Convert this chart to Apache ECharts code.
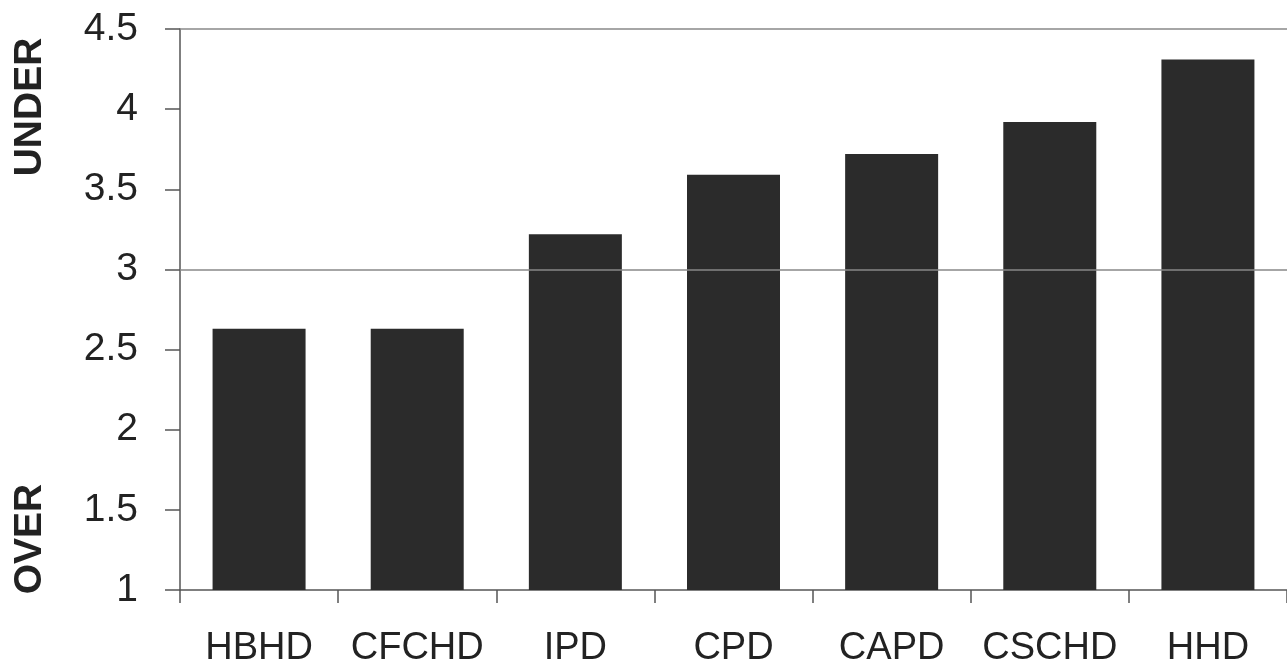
<!DOCTYPE html>
<html><head><meta charset="utf-8">
<script src="https://cdn.jsdelivr.net/npm/echarts@6/dist/echarts.min.js"></script>
<style>html,body{margin:0;padding:0;background:#fff}#c{width:1287px;height:668px}</style>
</head><body><div id="c"></div>
<script>
var categories = ['HBHD','CFCHD','IPD','CPD','CAPD','CSCHD','HHD'];
var values = [2.63, 2.63, 3.22, 3.59, 3.72, 3.92, 4.31];
var yTicks = [1, 1.5, 2, 2.5, 3, 3.5, 4, 4.5];
var refLines = [3, 4.5];

var chart = echarts.init(document.getElementById('c'));
chart.setOption({
  animation: false,
  grid: {left: 180, top: 29, width: 1120, height: 561},
  xAxis: {
    type: 'category', data: categories,
    axisLine: {lineStyle: {color: '#555', width: 1.5}},
    axisTick: {show: true, length: 13, lineStyle: {color: '#555', width: 1.5}},
    axisLabel: {interval: 0, color: '#222', fontSize: 38, fontFamily: 'Liberation Sans, Arial, sans-serif', margin: 40}
  },
  yAxis: {
    type: 'value', min: 1, max: 4.5, interval: 0.5,
    axisLine: {show: true, lineStyle: {color: '#555', width: 1.5}},
    axisTick: {show: true, length: 15, lineStyle: {color: '#555', width: 1.5}},
    splitLine: {show: false},
    axisLabel: {color: '#222', fontSize: 39, fontFamily: 'Liberation Sans, Arial, sans-serif', margin: 42,
      formatter: function (v) { return yTicks.indexOf(v) >= 0 ? String(v) : ''; }}
  },
  series: [{
    type: 'bar', data: values, barWidth: 93,
    itemStyle: {color: '#2b2b2b'},
    markLine: {
      silent: true, symbol: 'none', label: {show: false},
      lineStyle: {color: '#888', width: 1.5, type: 'solid'},
      data: refLines.map(function (v) { return {yAxis: v}; })
    }
  }],
  graphic: [
    {type: 'text', x: 30, y: 107, rotation: Math.PI / 2, originX: 0, originY: 0,
      style: {text: 'UNDER', font: 'bold 39px Liberation Sans, Arial, sans-serif', fill: '#222', align: 'center', verticalAlign: 'middle'}},
    {type: 'text', x: 30, y: 539, rotation: Math.PI / 2, originX: 0, originY: 0,
      style: {text: 'OVER', font: 'bold 39px Liberation Sans, Arial, sans-serif', fill: '#222', align: 'center', verticalAlign: 'middle'}}
  ]
});
</script></body></html>
